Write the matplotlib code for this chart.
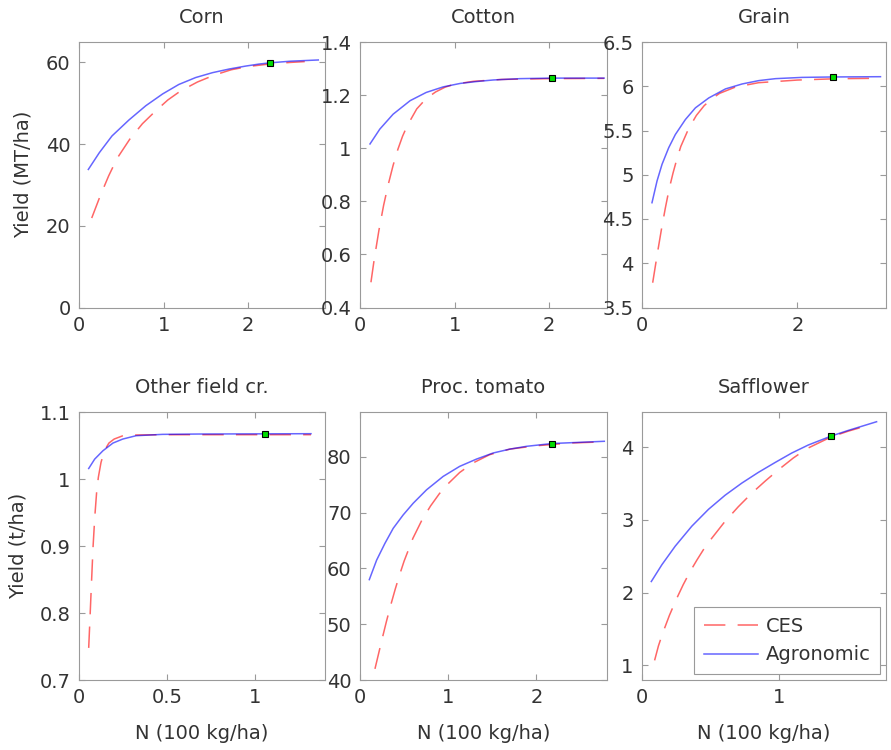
import matplotlib
matplotlib.use('Agg')
import matplotlib.pyplot as plt
from matplotlib.ticker import FormatStrFormatter

# values (N in 100 kg/ha)
crops = ['Corn', 'Cotton', 'Grain', 'Other field cr.', 'Proc. tomato', 'Safflower']

corn_n_agro = [0.11, 0.24, 0.39, 0.59, 0.79, 0.99, 1.18, 1.38, 1.58, 1.78, 1.97, 2.13, 2.26, 2.5, 2.83]
corn_y_agro = [33.8, 37.9, 42.0, 45.9, 49.4, 52.3, 54.6, 56.3, 57.5, 58.4, 59.1, 59.6, 59.9, 60.3, 60.6]
corn_n_ces = [0.15, 0.25, 0.35, 0.45, 0.6, 0.75, 0.9, 1.05, 1.2, 1.4, 1.6, 1.8, 2.0, 2.25, 2.5, 2.67]
corn_y_ces = [21.9, 27.3, 32.2, 36.5, 41.2, 45.0, 48.0, 50.8, 53.0, 55.2, 56.9, 58.2, 59.0, 59.6, 60.0, 60.2]
corn_opt = (2.26, 59.95)

cotton_n_agro = [0.106, 0.21, 0.35, 0.53, 0.70, 0.88, 1.06, 1.23, 1.41, 1.69, 2.03, 2.58]
cotton_y_agro = [1.016, 1.072, 1.128, 1.179, 1.210, 1.231, 1.244, 1.251, 1.257, 1.262, 1.264, 1.264]
cotton_n_ces = [0.116, 0.15, 0.2, 0.25, 0.3, 0.35, 0.4, 0.45, 0.5, 0.6, 0.7, 0.8, 0.9, 1.0, 1.2, 1.5, 2.0, 2.58]
cotton_y_ces = [0.495, 0.58, 0.69, 0.785, 0.865, 0.935, 0.995, 1.045, 1.085, 1.148, 1.187, 1.212, 1.230, 1.241,
                1.252, 1.259, 1.262, 1.263]
cotton_opt = (2.03, 1.264)

grain_n_agro = [0.129, 0.194, 0.258, 0.344, 0.43, 0.559, 0.688, 0.86, 1.075, 1.29, 1.505, 1.72, 2.06, 2.46, 3.07]
grain_y_agro = [4.684, 4.93, 5.117, 5.305, 5.455, 5.624, 5.756, 5.868, 5.97, 6.026, 6.064, 6.086, 6.10, 6.105, 6.108]
grain_n_ces = [0.138, 0.2, 0.25, 0.3, 0.35, 0.4, 0.45, 0.5, 0.6, 0.7, 0.8, 0.9, 1.0, 1.2, 1.5, 2.0, 2.5, 3.05]
grain_y_ces = [3.78, 4.12, 4.38, 4.62, 4.84, 5.02, 5.18, 5.32, 5.52, 5.67, 5.78, 5.86, 5.92, 5.99, 6.04, 6.07,
               6.085, 6.09]
grain_opt = (2.46, 6.10)

other_n_agro = [0.055, 0.089, 0.136, 0.193, 0.249, 0.325, 0.475, 0.683, 1.057, 1.32]
other_y_agro = [1.016, 1.030, 1.0425, 1.054, 1.060, 1.065, 1.067, 1.0675, 1.0678, 1.068]
other_n_ces = [0.055, 0.062, 0.07, 0.08, 0.09, 0.10, 0.11, 0.125, 0.145, 0.17, 0.2, 0.25, 0.3, 0.5, 1.0, 1.32]
other_y_ces = [0.748, 0.79, 0.84, 0.90, 0.945, 0.98, 1.003, 1.025, 1.043, 1.054, 1.060, 1.065, 1.066, 1.0665,
               1.0665, 1.0665]
other_opt = (1.057, 1.0675)

tomato_n_agro = [0.106, 0.189, 0.283, 0.377, 0.49, 0.604, 0.755, 0.943, 1.13, 1.32, 1.51, 1.70, 1.89, 2.18, 2.77]
tomato_y_agro = [58.0, 61.5, 64.5, 67.2, 69.6, 71.7, 74.1, 76.5, 78.3, 79.6, 80.7, 81.4, 81.9, 82.4, 82.8]
tomato_n_ces = [0.17, 0.25, 0.3, 0.35, 0.4, 0.45, 0.5, 0.6, 0.7, 0.8, 0.9, 1.0, 1.13, 1.28, 1.47, 1.7, 2.0, 2.4, 2.77]
tomato_y_ces = [42.0, 47.3, 50.5, 53.5, 56.3, 58.9, 61.3, 65.4, 68.6, 71.2, 73.4, 75.2, 77.2, 78.9, 80.4, 81.4,
                82.0, 82.5, 82.7]
tomato_opt = (2.18, 82.4)

saff_n_agro = [0.068, 0.145, 0.242, 0.363, 0.484, 0.605, 0.726, 0.847, 0.969, 1.09, 1.21, 1.375, 1.50, 1.707]
saff_y_agro = [2.154, 2.385, 2.64, 2.915, 3.146, 3.34, 3.506, 3.654, 3.79, 3.92, 4.03, 4.152, 4.23, 4.35]
saff_n_ces = [0.092, 0.12, 0.15, 0.2, 0.25, 0.3, 0.35, 0.4, 0.45, 0.5, 0.6, 0.7, 0.8, 0.9, 1.0, 1.1, 1.2,
              1.375, 1.5, 1.646]
saff_y_ces = [1.07, 1.27, 1.44, 1.69, 1.91, 2.11, 2.29, 2.45, 2.60, 2.73, 2.97, 3.18, 3.37, 3.54, 3.70, 3.85,
              3.98, 4.14, 4.22, 4.30]
saff_opt = (1.375, 4.152)

# axis ranges and ticks per panel
x_max = [2.91, 2.61, 3.14, 1.40, 2.80, 1.775]
y_lims = [(0, 65), (0.4, 1.4), (3.5, 6.5), (0.7, 1.1), (40, 88), (0.8, 4.48)]
x_ticks = [[0, 1, 2], [0, 1, 2], [0, 2], [0, 0.5, 1], [0, 1, 2], [0, 1]]
y_ticks = [[0, 20, 40, 60], [0.4, 0.6, 0.8, 1.0, 1.2, 1.4], [3.5, 4, 4.5, 5, 5.5, 6, 6.5],
           [0.7, 0.8, 0.9, 1.0, 1.1], [40, 50, 60, 70, 80], [1, 2, 3, 4]]

series = [
    (corn_n_agro, corn_y_agro, corn_n_ces, corn_y_ces, corn_opt),
    (cotton_n_agro, cotton_y_agro, cotton_n_ces, cotton_y_ces, cotton_opt),
    (grain_n_agro, grain_y_agro, grain_n_ces, grain_y_ces, grain_opt),
    (other_n_agro, other_y_agro, other_n_ces, other_y_ces, other_opt),
    (tomato_n_agro, tomato_y_agro, tomato_n_ces, tomato_y_ces, tomato_opt),
    (saff_n_agro, saff_y_agro, saff_n_ces, saff_y_ces, saff_opt),
]

# panel rectangles in figure fractions
lefts = [0.0887, 0.404, 0.7205]
widths = [0.2761, 0.2772, 0.2738]
bottoms = [0.590, 0.0933]
heights = [0.354, 0.357]

GRAY = '#9a9a9a'
TXT = '#333333'

fig = plt.figure(figsize=(8.91, 7.5), dpi=100)

for i, crop in enumerate(crops):
    row, col = divmod(i, 3)
    ax = fig.add_axes([lefts[col], bottoms[row], widths[col], heights[row]])
    n_agro, y_agro, n_ces, y_ces, opt = series[i]

    ax.plot(n_ces, y_ces, color='red', alpha=0.6, lw=1.1, dashes=(14, 8), label='CES')
    ax.plot(n_agro, y_agro, color='blue', alpha=0.6, lw=1.1, label='Agronomic')
    ax.plot([opt[0]], [opt[1]], 's', ms=5, mfc='#00dd00', mec='black', mew=0.8)

    ax.set_xlim(0, x_max[i])
    ax.set_ylim(*y_lims[i])
    ax.set_xticks(x_ticks[i])
    ax.set_yticks(y_ticks[i])
    ax.xaxis.set_major_formatter(FormatStrFormatter('%g'))
    ax.yaxis.set_major_formatter(FormatStrFormatter('%g'))
    ax.tick_params(direction='in', top=True, right=True, length=4, width=0.8,
                   color=GRAY, labelcolor=TXT, labelsize=14, pad=6)
    for sp in ax.spines.values():
        sp.set_color(GRAY)
        sp.set_linewidth(0.8)

    ax.set_title(crop, fontsize=14, color=TXT, pad=14)

    if col == 0:
        if row == 0:
            ax.set_ylabel('Yield (MT/ha)', fontsize=14, color=TXT)
            ax.yaxis.set_label_coords(-0.187, 0.5)
        else:
            ax.set_ylabel('Yield (t/ha)', fontsize=14, color=TXT)
            ax.yaxis.set_label_coords(-0.211, 0.5)
    if row == 1:
        ax.set_xlabel('N (100 kg/ha)', fontsize=14, color=TXT, labelpad=12)

    if i == 5:
        leg = ax.legend(loc='lower right', fontsize=14, fancybox=False, framealpha=1,
                        edgecolor=GRAY, handlelength=2.8, handletextpad=0.36,
                        borderaxespad=0.3, borderpad=0.5)
        leg.get_frame().set_linewidth(0.8)
        for t in leg.get_texts():
            t.set_color(TXT)

fig.savefig('out.png', dpi=100)
